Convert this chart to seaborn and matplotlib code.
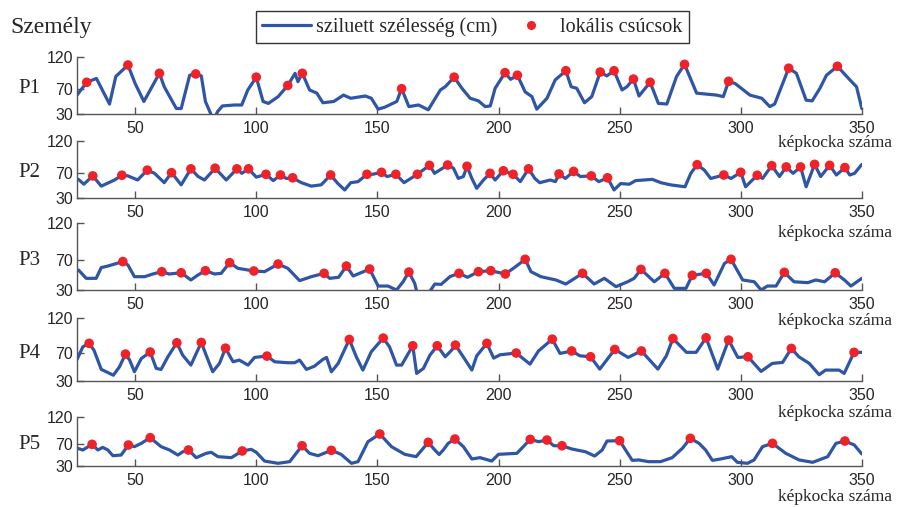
import numpy as np
import pandas as pd
import matplotlib
matplotlib.use('Agg')
import matplotlib.pyplot as plt
import matplotlib.transforms as mtransforms
from matplotlib.lines import Line2D
import seaborn as sns

# silhouette width (cm) per frame
p1_frame = [26, 30, 34, 39.4, 42, 47, 50, 53.6, 60, 62, 67, 69, 72.5, 75, 77.3, 79, 81.4, 82.5, 84, 86, 91, 94,
            96.5, 100, 102.8, 105, 109, 113, 116, 117.2, 119, 122, 125, 127.5, 132, 136, 139, 145, 147.5, 150.3,
            153, 158, 160, 163, 167, 171, 176, 178, 181.7, 184.9, 188.3, 191.7, 194.5, 196.6, 198.6, 202.7, 205,
            207.8, 211, 213.8, 215.8, 220, 223.4, 227.8, 230, 232.3, 235.5, 238.5, 242, 244.7, 247.7, 251, 253,
            255.7, 258, 262.6, 266, 269.5, 273.5, 276.8, 281.8, 290, 292.8, 295, 297.7, 303.8, 308.7, 312, 314,
            319.8, 323, 327, 329.5, 332.7, 335.4, 339.9, 345, 347.8, 350]
p1_width = [60, 80, 86, 46, 89, 107, 78, 50, 94, 73, 39, 39, 91, 93, 90, 50, 29, 22, 34, 43, 44.5, 44.5,
            68, 88, 50, 47, 57.5, 75, 94, 81, 94, 68, 63, 48, 50, 60, 55, 58.6, 55, 38,
            41, 50, 70, 42, 44.5, 37, 68, 73, 88, 70.6, 55, 51, 42, 43, 70.6, 95, 84.6,
            91, 65, 57.6, 38, 55, 83.6, 98, 73, 70.6, 48, 57.6, 96, 90, 98, 68, 73,
            85, 58.6, 80, 47, 46, 89, 108, 63, 60, 57.6, 81.5, 78, 60, 55, 42, 46,
            102, 94, 52, 51, 70.6, 91, 105, 84, 73, 39]
p1_peak_frame = [30, 47, 60, 75, 100, 113, 119, 160, 181.7, 202.7, 207.8, 227.8, 242, 247.7, 255.7, 262.6,
                 276.8, 295, 319.8, 339.9]
p1_peak_width = [80, 107, 94, 93, 88, 75, 94, 70, 88, 95, 91, 98, 96, 98, 85, 80, 108, 81.5, 102, 105]

p2_frame = [26.6, 28.8, 32.5, 36, 41.5, 44.5, 47, 51, 55, 58, 62, 65, 69, 73, 76, 78.6, 83, 87.6, 92, 94,
            96.8, 100, 104, 107, 110, 112.4, 115, 118.6, 122.7, 126.8, 130.7, 133.7, 136.5, 139, 142, 145.7,
            148, 151.7, 154, 157.6, 161, 166.5, 171.5, 173.6, 179, 181.4, 183.4, 185.5, 187, 189, 191, 193.8,
            196.5, 198.6, 202, 206, 209, 212.4, 215, 217, 221.4, 223.5, 225, 227.6, 231, 233.8, 238.3, 241.4,
            245, 247.7, 250.4, 254, 256.6, 260, 263.5, 267, 271, 277, 279.4, 282, 285, 287.6, 293, 296, 300,
            302, 306.8, 309, 312.8, 316, 318.8, 321.6, 324.7, 327, 330.5, 333, 336.7, 339.5, 343, 345, 347, 350]
p2_width = [59.6, 52, 65, 49, 58.6, 66, 65, 58.6, 74, 69, 54.4, 70, 51, 76, 64, 58.6, 77, 58.6, 76, 69,
            76, 63, 67.5, 57.6, 66.4, 61, 62, 54.4, 49, 51, 66.4, 53, 43, 54.4, 56, 67.5,
            67.5, 70.6, 64, 67.5, 54.4, 67.5, 81.5, 69, 82, 77, 61, 64, 80, 61, 45.6, 58.6,
            69, 58.6, 73, 67.5, 56, 76, 61, 54.4, 58.6, 56, 68, 61, 72, 64, 65, 56,
            62, 43, 53, 52, 57.6, 58.6, 59.6, 54.4, 51, 48, 69, 82.5, 74, 61, 66.4, 61, 70.6,
            48, 66, 61, 81, 64, 79, 69, 79, 48, 83, 64, 81.5, 66.4, 78, 66.4, 69, 83]
p2_peak_frame = [32.5, 44.5, 55, 65, 73, 83, 92, 96.8, 104, 110, 115, 130.7, 145.7, 151.7, 157.6, 166.5,
                 171.5, 179, 187, 196.5, 202, 206, 212.4, 225, 231, 238.3, 245, 282, 293, 300, 306.8,
                 312.8, 318.8, 324.7, 330.5, 336.7, 343]
p2_peak_width = [65, 66, 74, 70, 76, 77, 76, 76, 67.5, 66.4, 62, 66.4, 67.5, 70.6, 67.5, 67.5,
                 81.5, 82, 80, 69, 73, 67.5, 76, 68, 72, 65, 62, 82.5, 66.4, 70.6, 66,
                 81, 79, 79, 83, 81.5, 78]

p3_frame = [26.6, 29.8, 33.9, 36, 38.7, 41.5, 44.9, 47, 49.7, 53.9, 57.3, 61, 64, 69, 73, 75.9, 79, 82.8,
            85.5, 89, 92.4, 99, 103.4, 109, 113, 117.9, 122.7, 128, 130.3, 134, 137.2, 140, 146.8, 150.3,
            154.4, 157.9, 160.6, 163, 165.4, 167, 170, 171.6, 173.7, 176.3, 180, 183.7, 187.2, 191.7, 196.8,
            202.8, 207, 211, 213.4, 217.5, 223.7, 227.8, 234.7, 239.5, 243.7, 248.5, 253.3, 256, 258.8,
            264.3, 268.7, 272.6, 277.4, 280, 285.8, 289, 293.3, 296, 300.8, 305.6, 308.4, 311, 314.6, 318,
            322, 327.7, 331, 334.6, 339, 342.8, 345.5, 350]
p3_width = [56.7, 45.6, 45.6, 60, 62, 64.7, 68, 63.4, 47.8, 47.8, 51.4, 54.5, 51.4, 53, 43.4, 50, 55.8, 51.4,
            52.3, 66.5, 59, 55.4, 54.5, 64.7, 59, 42.5, 47.8, 52.3, 45.6, 47, 62, 48.7, 58, 35.3,
            35.3, 30, 41, 54, 38.9, 18, 18, 27.8, 38, 37.5, 48, 52.3, 47, 54.5, 55.8,
            51.4, 61, 71, 54.5, 47.8, 43.4, 38, 52.3, 38, 45.6, 34.5, 41, 45.6, 57.6,
            41, 52.3, 32.2, 32.2, 49.6, 52.3, 36.7, 65.6, 71, 43.4, 41, 30, 35.3, 35.3, 53.6,
            41, 39.8, 43.4, 41, 53, 43.4, 35.3, 45.6]
p3_peak_frame = [44.9, 61, 69, 79, 89, 99, 109, 128, 137.2, 146.8, 163, 183.7, 191.7, 196.8, 202.8, 211,
                 234.7, 258.8, 268.7, 280, 285.8, 296, 318, 339]
p3_peak_width = [68, 54.5, 53, 55.8, 66.5, 55.4, 64.7, 52.3, 62, 58, 54, 52.3, 54.5, 55.8, 51.4, 71,
                 52.3, 57.6, 52.3, 49.6, 52.3, 71, 53.6, 53]

p4_frame = [26, 28.4, 31, 33, 36, 41, 43.5, 46, 47.7, 49.7, 52.5, 56.2, 58.7, 60.7, 63.5, 67.2, 69.6, 73,
            77.3, 79.3, 82, 84.8, 87.3, 90.4, 93, 96.6, 99.3, 104.4, 107.6, 113, 115.8, 117.9, 120.7, 124,
            127.5, 129, 131, 133.8, 138.4, 141.3, 144, 147.5, 152.4, 155, 157.9, 160, 164.6, 166.2, 169,
            171.7, 174.7, 178, 180.6, 182.2, 185.6, 189, 191, 195.2, 198, 200.7, 207.3, 213, 216.5, 222.2,
            225.4, 230.2, 233.6, 238, 241.8, 248, 253.5, 259, 265.8, 269.3, 272, 277.6, 281.6, 285.7, 290.5,
            295, 298.8, 303, 308.4, 313, 317.3, 320.9, 324, 328.3, 332.4, 335, 340.6, 342.7, 346.8, 350]
p4_width = [60.8, 79, 84, 74, 46.4, 38, 50, 68.5, 60, 43, 62, 71.4, 47.8, 46.4, 64.6, 84.8, 67, 52.6,
            85.3, 67, 43, 55, 77, 57.4, 59.8, 52.6, 63.7, 65.6, 57.4, 56, 56, 59.8, 46.4, 51,
            60.8, 63.7, 43, 55, 89.6, 64.6, 45.4, 72, 91.6, 79, 52.6, 52.6, 80.5, 40.6, 47.8,
            67, 80.5, 64.6, 74, 81.5, 63.7, 45.4, 66, 84, 62.7, 67.5, 70, 54, 73, 90,
            69.4, 73, 66, 64.6, 46.8, 75.2, 63.7, 73, 46.8, 66, 91, 71, 71, 92, 46.8,
            88.7, 63.7, 64.6, 43.5, 55, 56.5, 76.7, 64.6, 55, 38.7, 45.4, 45.4, 40.6, 71, 71]
p4_peak_frame = [31, 46, 56.2, 67.2, 77.3, 87.3, 104.4, 138.4, 152.4, 164.6, 174.7, 182.2, 195.2, 207.3,
                 222.2, 230.2, 238, 248, 259, 272, 285.7, 295, 303, 320.9, 346.8]
p4_peak_width = [84, 68.5, 71.4, 84.8, 85.3, 77, 65.6, 89.6, 91.6, 80.5, 80.5, 81.5, 84, 70,
                 90, 73, 64.6, 75.2, 73, 91, 92, 88.7, 64.6, 76.7, 71]

p5_frame = [26.3, 28.4, 32.2, 34.6, 36.6, 38.7, 40.8, 44.2, 47.2, 49.7, 52.5, 56.2, 60.7, 64.2, 67.6, 69.7,
            72, 75.2, 79.3, 81.4, 84.2, 89.7, 94.2, 97.9, 100, 103.4, 109, 113.8, 118.9, 122, 125.5, 131, 135,
            139.3, 142, 146.1, 151, 155.8, 161.3, 166, 171, 173.7, 175.5, 177.2, 179.2, 182, 185.5, 189, 192.4,
            197.2, 200, 207.6, 213.1, 216.5, 220, 222.8, 226.2, 230.3, 235.9, 239.7, 242.8, 244.8, 250, 255.2,
            257.9, 262, 266.9, 271.7, 275.9, 279.2, 282.8, 285.5, 288.3, 291.7, 296.3, 298.6, 302.8, 305.5,
            309, 313.1, 318.6, 324.1, 329.7, 335.9, 339.3, 343, 346.9, 350]
p5_width = [62.2, 59.2, 69.5, 59.2, 64, 59.2, 48.8, 50, 68.3, 65.3, 71.3, 81.7, 65.3, 59.2, 50, 56,
            59.2, 45.2, 53.1, 55, 47, 45.2, 57.4, 60.4, 55, 39, 34.9, 37.9, 67, 53.1, 48.8, 58.6, 51.3,
            34.9, 37.9, 74.4, 88.4, 65.3, 51.3, 47, 73.2, 59.2, 51, 59.2, 71.3, 79.2, 65.3, 42.8, 45.2,
            39, 51.3, 53.1, 78.6, 74.4, 77.4, 67, 67, 61, 56, 48.2, 59.2, 75.6, 76.2, 40.3,
            41, 37.9, 37.9, 45.2, 62.2, 80.5, 71.3, 59.2, 40.3, 42.8, 47, 36.7, 34.9, 41,
            65.3, 71.3, 53.1, 41, 36.7, 47, 71.3, 75.6, 68.3, 51.9]
p5_peak_frame = [32.2, 47.2, 56.2, 72, 94.2, 118.9, 131, 151, 171, 182, 213.1, 220, 226.2, 250, 279.2,
                 313.1, 343]
p5_peak_width = [69.5, 68.3, 81.7, 59.2, 57.4, 67, 58.6, 88.4, 73.2, 79.2, 78.6, 77.4, 67, 76.2, 80.5,
                 71.3, 75.6]

persons = ['P1', 'P2', 'P3', 'P4', 'P5']
x_ticks = [50, 100, 150, 200, 250, 300, 350]
y_ticks = [30, 70, 120]

lines = [(p1_frame, p1_width), (p2_frame, p2_width), (p3_frame, p3_width), (p4_frame, p4_width), (p5_frame, p5_width)]
peaks = [(p1_peak_frame, p1_peak_width), (p2_peak_frame, p2_peak_width), (p3_peak_frame, p3_peak_width),
         (p4_peak_frame, p4_peak_width), (p5_peak_frame, p5_peak_width)]

BLUE = '#2f55a5'
RED = '#ee2229'
SPINE = '#555555'

sns.set_theme(style='white')
plt.rcParams['font.family'] = ['Liberation Serif', 'DejaVu Serif']

fig = plt.figure(figsize=(9, 5.07), dpi=100)

# panel rectangles (left, bottom, width, height)
rects = [[0.0856, 0.7746, 0.872, 0.1136],
         [0.0856, 0.6089, 0.872, 0.1136],
         [0.0856, 0.428, 0.872, 0.1328],
         [0.0856, 0.249, 0.872, 0.123],
         [0.0856, 0.0809, 0.872, 0.0972]]
xlabel_off = [21, 25, 22, 23, 22]

for i, name in enumerate(persons):
    ax = fig.add_axes(rects[i])
    fr, wd = lines[i]
    pf, pw = peaks[i]
    sns.lineplot(x=fr, y=wd, ax=ax, color=BLUE, linewidth=2.3, sort=False, estimator=None)
    sns.scatterplot(x=pf, y=pw, ax=ax, color=RED, s=48, edgecolor='none', zorder=3)
    ax.set_xlim(26, 350)
    ax.set_ylim(30, 120)
    ax.set_xticks(x_ticks)
    ax.set_yticks(y_ticks)
    ax.set_facecolor('none')
    for s in ['top', 'right']:
        ax.spines[s].set_visible(False)
    for s in ['left', 'bottom']:
        ax.spines[s].set_color(SPINE)
        ax.spines[s].set_linewidth(1.0)
    ax.tick_params(axis='both', direction='in', length=5, width=1, color=SPINE, labelsize=11.5,
                   left=True, bottom=True)
    ax.tick_params(axis='x', pad=5)
    ax.tick_params(axis='y', pad=3)
    for lab in ax.get_xticklabels() + ax.get_yticklabels():
        lab.set_fontfamily('Liberation Sans')
    ax.set_xlabel('')
    ax.set_ylabel('')
    trans = mtransforms.blended_transform_factory(fig.transFigure, ax.transData)
    ax.text(0.033, 70, name, transform=trans, ha='center', va='center', fontsize=15)
    ax.annotate('képkocka száma', xy=(0.991, 0), xycoords=('figure fraction', 'axes fraction'),
                xytext=(0, -xlabel_off[i]), textcoords='offset points', ha='right', va='center',
                fontsize=12.5, zorder=5)

fig.text(0.011, 0.945, 'Személy', ha='left', va='center', fontsize=17)

handles = [Line2D([], [], color=BLUE, linewidth=2.3),
           Line2D([], [], marker='o', linestyle='', color=RED, markersize=5.5)]
leg = fig.legend(handles, ['sziluett szélesség (cm)', 'lokális csúcsok'], loc='center',
                 bbox_to_anchor=(0.525, 0.947), ncol=2, frameon=True, fancybox=False,
                 edgecolor='black', fontsize=14.5, handlelength=2.4, handletextpad=0.25,
                 columnspacing=0.5, borderpad=0.3, borderaxespad=0)
leg.get_frame().set_linewidth(1.0)

fig.savefig('out.png', dpi=100, facecolor='white')
